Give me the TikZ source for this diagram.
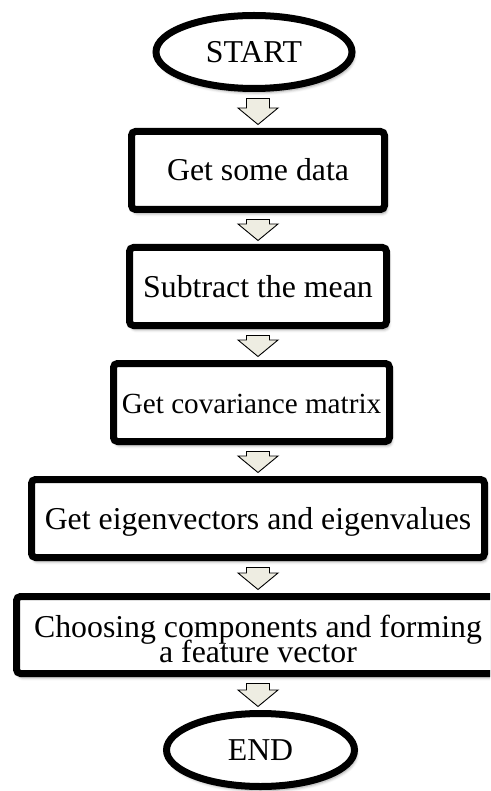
\documentclass[tikz,border=0pt]{standalone}
\usepackage{fontspec}
\setmainfont{Liberation Serif}
\usetikzlibrary{calc,shapes.geometric,shadows.blur}

\definecolor{arrowfill}{RGB}{238,237,226}

\tikzset{
  flowfont/.style={font=\fontsize{31.8}{24}\selectfont},
  softshadow/.style={blur shadow={shadow xshift=2pt, shadow yshift=-4pt,
      shadow blur radius=3pt, shadow opacity=40}},
  flowbox/.style={rectangle, draw=black, line width=7pt, fill=white,
    rounded corners=4pt, inner sep=0pt, flowfont,
    text height=21pt, text depth=0pt, softshadow},
  terminal/.style={ellipse, draw=black, line width=7pt, fill=white,
    inner sep=0pt, flowfont, text height=21pt, text depth=0pt, softshadow},
  blockarrow/.style={draw=black, line width=0.9pt, fill=arrowfill,
    line join=miter},
}

% Block arrow from the bottom of #1 to the top of #2, centred on #3
\newcommand\flowarrow[3]{%
  \draw[blockarrow] let \p1=(#1.south), \p2=(#2.north), \p3=(#3.center) in
    (\x3-11.5pt,\y1-6.5pt) -- (\x3+11.5pt,\y1-6.5pt)
    -- (\x3+11.5pt,\y2+20pt) -- (\x3+20pt,\y2+20pt)
    -- (\x3,\y2+3.5pt)
    -- (\x3-20pt,\y2+20pt) -- (\x3-11.5pt,\y2+20pt) -- cycle;}

\begin{document}
\begin{tikzpicture}[x=1pt, y=-1pt]
  \useasboundingbox (0,0) rectangle (490,791);
  \clip (0,0) rectangle (490,791);

  \node[terminal, minimum width=196pt, minimum height=73pt] (start) at (254,52) {START};
  \node[flowbox, minimum width=253pt, minimum height=78pt] (data) at (258,170.5) {Get some data};
  \node[flowbox, minimum width=257pt, minimum height=78pt] (mean) at (258,286.5) {Subtract the mean};
  \node[flowbox, minimum width=276pt, minimum height=78pt, font=\fontsize{29.2}{24}\selectfont]
    (cov) at (251.5,402.5) {Get covariance matrix};
  \node[flowbox, minimum width=453pt, minimum height=78pt] (eig) at (258,518.5) {Get eigenvectors and eigenvalues};
  \node[flowbox, minimum width=483pt, minimum height=77pt, align=center,
    text height=55pt, text depth=0pt]
    (feat) at (258,635) {Choosing components and forming\\[-5.5pt]a feature vector};
  \node[terminal, minimum width=188pt, minimum height=73pt] (end) at (260.5,750) {END};

  \flowarrow{start}{data}{data}
  \flowarrow{data}{mean}{mean}
  \flowarrow{mean}{cov}{mean}
  \flowarrow{cov}{eig}{eig}
  \flowarrow{eig}{feat}{feat}
  \flowarrow{feat}{end}{feat}
\end{tikzpicture}
\end{document}
